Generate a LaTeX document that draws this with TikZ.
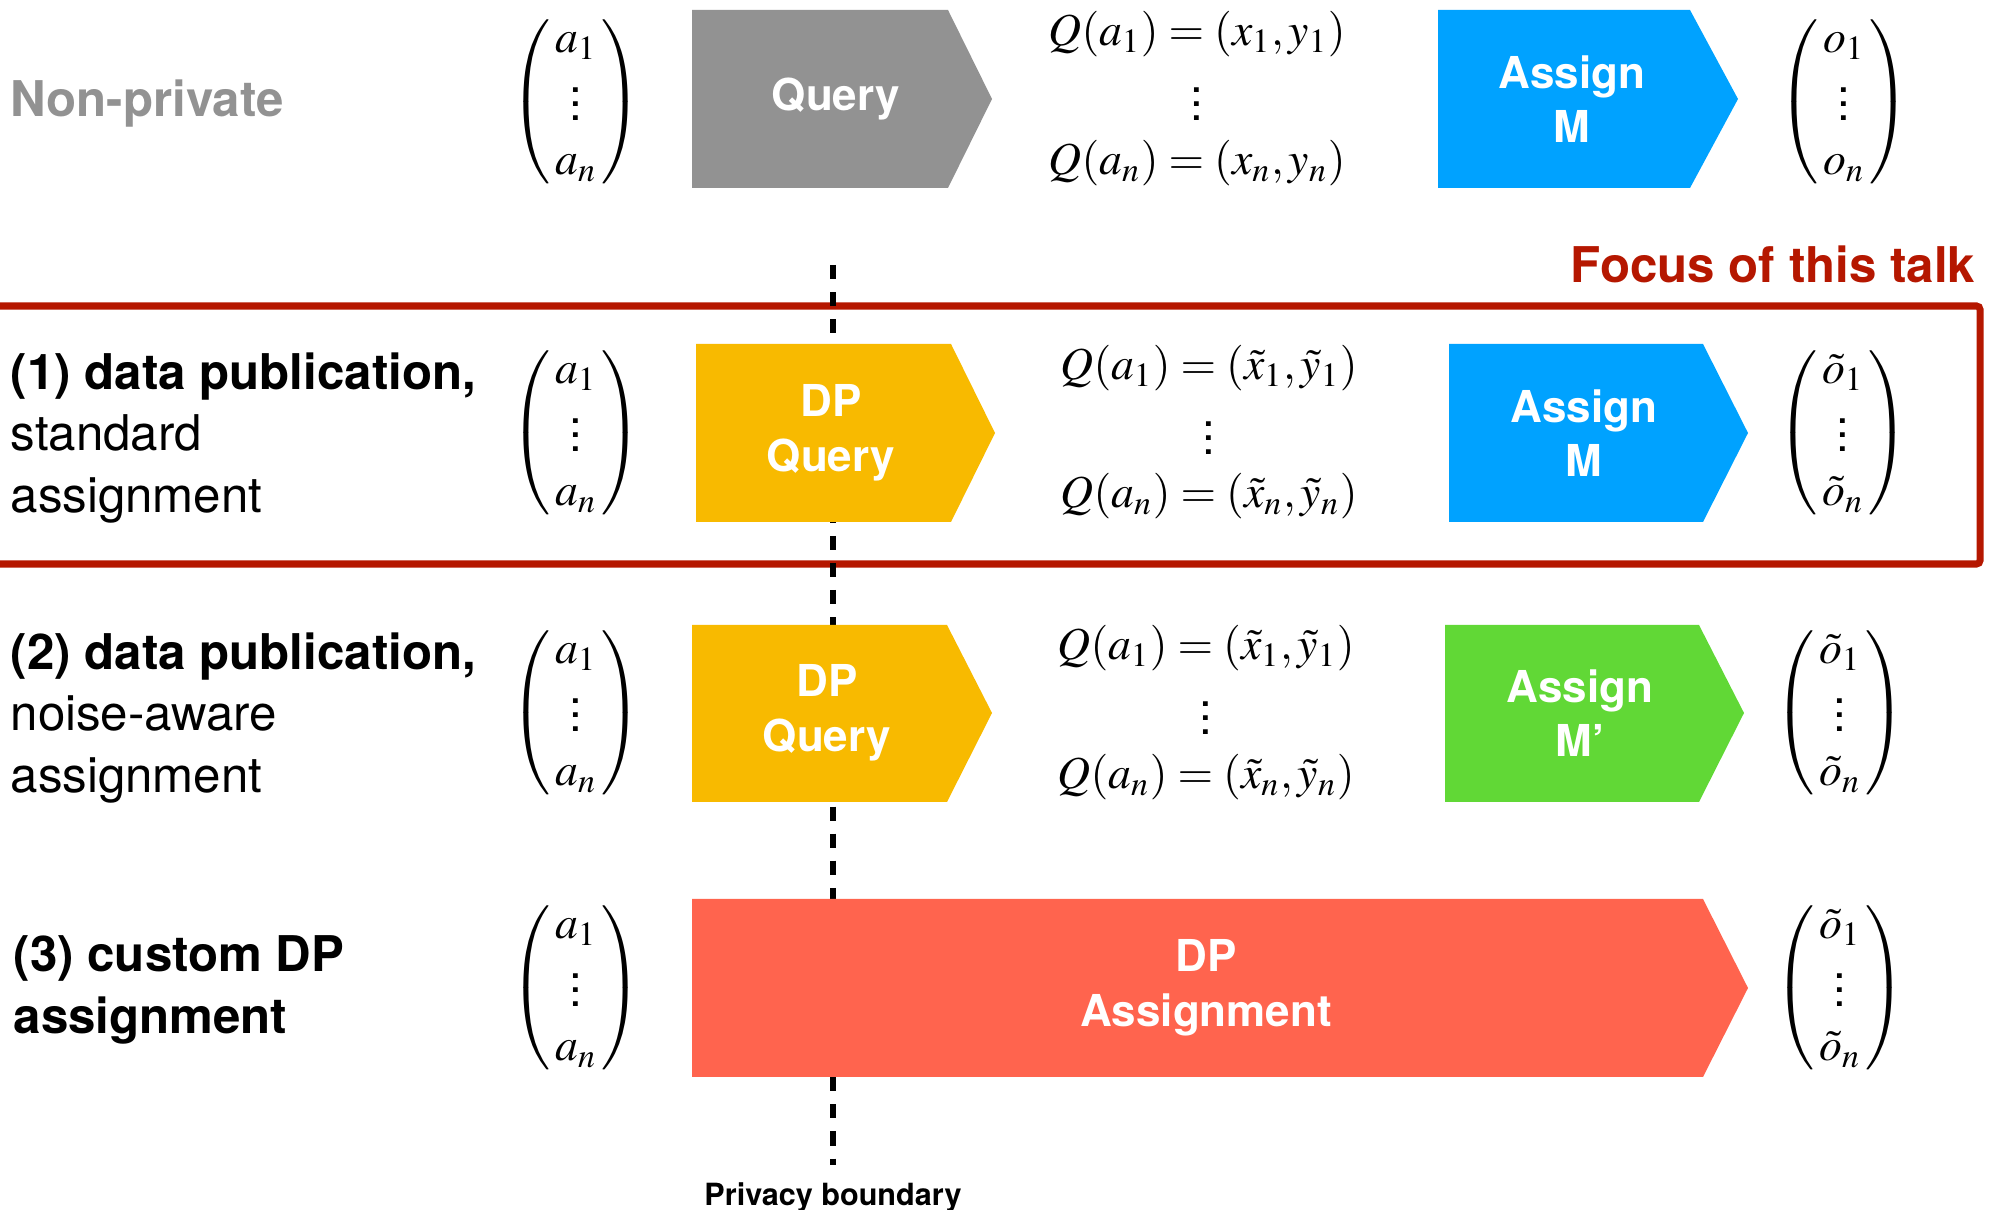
\documentclass[tikz,border=0pt]{standalone}
\usepackage{mathptmx}
\usepackage[no-math]{fontspec}
\setmainfont{TeX Gyre Heros}
\definecolor{npgray}{HTML}{929292}
\definecolor{qblue}{HTML}{00A2FF}
\definecolor{dpyellow}{HTML}{F8BA00}
\definecolor{mgreen}{HTML}{61D836}
\definecolor{dpred}{HTML}{FF644E}
\definecolor{focusred}{HTML}{B51700}
\newcommand{\mvec}[1]{$\left(\begin{array}{@{\,}c@{\,}}#1_1\\[-0.7pt]\vdots\\[-0.7pt]#1_n\end{array}\right)$}
\tikzset{
  rowlabel/.style={anchor=west, align=left, inner sep=0pt, font=\fontsize{14}{17.5}\selectfont},
  boxtext/.style={text=white, align=center, inner sep=0pt, font=\fontsize{12.5}{15.5}\selectfont\bfseries},
  mathtxt/.style={inner sep=0pt, font=\fontsize{13}{16}\selectfont},
  vecnode/.style={inner sep=0pt, font=\fontsize{13}{16}\selectfont},
  focusbox/.style={draw=focusred, line width=2pt, rounded corners=1pt},
  boundary/.style={line width=1.6pt, dash pattern=on 4pt off 3.7pt},
  pblabel/.style={inner sep=0pt, font=\fontsize{8.7}{10}\selectfont\bfseries},
}
\begin{document}
\begin{tikzpicture}[x=0.01cm, y=-0.01cm]
\useasboundingbox (0,0) rectangle (1996,1210);

% focus box
\draw[focusbox] (-10,306) rectangle (1980,564);
\node[anchor=east, inner sep=0pt, text=focusred, font=\fontsize{14}{17}\selectfont\bfseries] (focus) at (1976,264) {Focus of this talk};

% privacy boundary
\coordinate (pbtop) at (833,265);
\node[pblabel] (pb) at (833,1197) {Privacy boundary};
\draw[boundary, shorten >=0.17cm] (pbtop) -- (pb.north);

% row labels
\node[rowlabel, text=npgray, font=\fontsize{14}{17.5}\selectfont\bfseries] (l0) at (10,104) {Non-private};
\node[rowlabel] (l1) at (10,438) {\textbf{(1) data publication,}\\standard\\assignment};
\node[rowlabel] (l2) at (10,718) {\textbf{(2) data publication,}\\noise-aware\\assignment};
\node[rowlabel, font=\fontsize{14}{17.5}\selectfont\bfseries] (l3) at (13,990) {(3) custom DP\\assignment};

% top row
\fill[npgray] (692,10) -- (948,10) -- (992,99) -- (948,188) -- (692,188) -- cycle;
\node[boxtext] (q0) at (836,99) {Query};
\fill[qblue] (1438,10) -- (1690,10) -- (1738,99) -- (1690,188) -- (1438,188) -- cycle;
\node[boxtext] (m0) at (1572,99) {Assign\\M};
\node[vecnode] (a0) at (576,102) {\mvec{a}};
\node[vecnode] (o0) at (1844,102) {\mvec{o}};
\node[mathtxt] (qa0) at (1197,34) {$Q(a_1) = (x_1, y_1)$};
\node[mathtxt] (qd0) at (1197,94) {$\vdots$};
\node[mathtxt] (qb0) at (1197,163) {$Q(a_n) = (x_n, y_n)$};

% row 1
\fill[dpyellow] (696,344) -- (951,344) -- (995,433) -- (951,522) -- (696,522) -- cycle;
\node[boxtext] (q1) at (831,433) {DP\\Query};
\fill[qblue] (1449,344) -- (1703,344) -- (1748,433) -- (1703,522) -- (1449,522) -- cycle;
\node[boxtext] (m1) at (1584,433) {Assign\\M};
\node[vecnode] (a1) at (576,433) {\mvec{a}};
\node[vecnode] (o1) at (1843,433) {\mvec{\tilde{o}}};
\node[mathtxt] (qa1) at (1209,368) {$Q(a_1) = (\tilde{x}_1, \tilde{y}_1)$};
\node[mathtxt] (qd1) at (1209,428) {$\vdots$};
\node[mathtxt] (qb1) at (1209,496) {$Q(a_n) = (\tilde{x}_n, \tilde{y}_n)$};

% row 2
\fill[dpyellow] (692,625) -- (947,625) -- (992,713) -- (947,802) -- (692,802) -- cycle;
\node[boxtext] (q2) at (827,713) {DP\\Query};
\fill[mgreen] (1445,625) -- (1699,625) -- (1744,713) -- (1699,802) -- (1445,802) -- cycle;
\node[boxtext] (m2) at (1580,713) {Assign\\M’};
\node[vecnode] (a2) at (576,713) {\mvec{a}};
\node[vecnode] (o2) at (1840,713) {\mvec{\tilde{o}}};
\node[mathtxt] (qa2) at (1206,648) {$Q(a_1) = (\tilde{x}_1, \tilde{y}_1)$};
\node[mathtxt] (qd2) at (1206,708) {$\vdots$};
\node[mathtxt] (qb2) at (1206,777) {$Q(a_n) = (\tilde{x}_n, \tilde{y}_n)$};

% row 3
\fill[dpred] (692,899) -- (1703,899) -- (1748,988) -- (1703,1077) -- (692,1077) -- cycle;
\node[boxtext] (m3) at (1206,988) {DP\\Assignment};
\node[vecnode] (a3) at (576,988) {\mvec{a}};
\node[vecnode] (o3) at (1840,988) {\mvec{\tilde{o}}};
\end{tikzpicture}
\end{document}
